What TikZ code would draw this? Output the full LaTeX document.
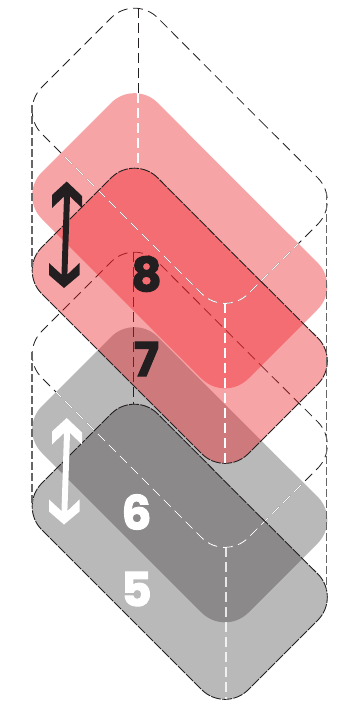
\documentclass[tikz,border=0pt]{standalone}
\usepackage{fontspec}
\setmainfont{Poppins}
\newfontfamily\digitfont[FakeBold=2.2]{Poppins Bold}
\definecolor{inkdark}{HTML}{231F20}
\definecolor{pinkfill}{HTML}{ED1C24}
\def\rhombpath{(237.5,98) -- (341,201) -- (225,317) -- (18.5,110.5) -- (134.5,-5.5) -- cycle}
\def\arrowpath{(66.7,181.5) -- (82,196) -- (82,208) -- (70,196.5) -- (67.4,274.5) -- (79.5,263) -- (79.5,275) -- (64,288) -- (49,275) -- (49,263) -- (61.5,274.5) -- (64,196.5) -- (52,208) -- (52,195) -- cycle}
\tikzset{
  roundshape/.style={rounded corners=33pt},
  pinkplate/.style={roundshape,fill=pinkfill,fill opacity=.4},
  grayplate/.style={roundshape,fill=inkdark,fill opacity=.31},
  wireline/.style={roundshape,draw=inkdark,line width=.8pt,dash pattern=on 10pt off 5.5pt},
  wirewhite/.style={wireline,draw=white,line width=1pt},
  edgeline/.style={roundshape,draw=inkdark,line width=.9pt,dash pattern=on 10pt off 1.3pt},
  stemdark/.style={draw=inkdark,line width=.8pt,dash pattern=on 10pt off 5pt},
  stemwhite/.style={draw=white,line width=1.2pt,dash pattern=on 10pt off 5pt},
  stemgray/.style={draw=black!60,line width=1.2pt,dash pattern=on 8pt off 3pt},
  digit/.style={font=\fontsize{47pt}{47pt}\selectfont\digitfont,inner sep=0pt}
}
\begin{document}
\begin{tikzpicture}[x=1pt,y=-1pt]
\useasboundingbox (0,0) rectangle (339,701);
\fill[white] (0,0) rectangle (339,701);
% gray plates
\path[grayplate,shift={(0,319)}] \rhombpath;
\path[grayplate,shift={(0,396)}] \rhombpath;
% middle wire under the pink plates
\draw[wireline,shift={(0,244)}] \rhombpath;
\draw[stemdark] (133.5,252) -- (133.5,404);
\begin{scope}
  \clip[roundshape,shift={(0,319)}] \rhombpath;
  \draw[wirewhite,shift={(0,244)}] \rhombpath;
\end{scope}
% pink plates
\path[pinkplate,shift={(0,85)}] \rhombpath;
\path[pinkplate,shift={(0,160)}] \rhombpath;
% top wire
\draw[wireline] \rhombpath;
\draw[stemdark] (138,8) -- (138,93);
\begin{scope}
  \clip[roundshape,shift={(0,85)}] \rhombpath;
  \draw[wirewhite] \rhombpath;
\end{scope}
\draw[stemwhite] (138,93) -- (138,168);
% plate edges
\draw[edgeline,shift={(0,160)}] \rhombpath;
\draw[edgeline,shift={(0,396)}] \rhombpath;
% vertical stems
\draw[stemwhite] (225,303) -- (225,463);
\draw[stemwhite,draw opacity=.8] (226,547) -- (226,699);
\draw[stemgray] (32,105) -- (32,267);
\draw[stemgray] (32,352) -- (32,503);
\draw[stemgray] (326.7,192) -- (326.7,590);
% arrows
\fill[inkdark] \arrowpath;
\fill[white,shift={(0,236.5)}] \arrowpath;
% digits
\node[digit,text=inkdark] (n8) at (146.5,274) {8};
\node[digit,text=inkdark] (n7) at (146.5,359) {7};
\node[digit,text=white] (n6) at (136.5,512) {6};
\node[digit,text=white] (n5) at (136.5,589) {5};
\end{tikzpicture}
\end{document}
